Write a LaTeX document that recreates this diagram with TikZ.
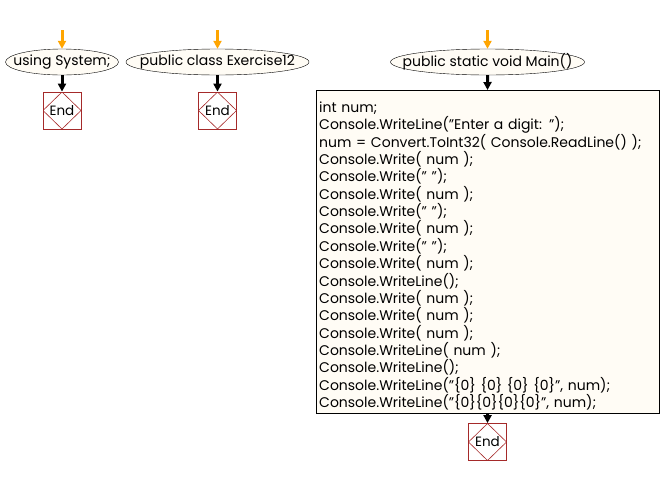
\documentclass[tikz,border=0pt]{standalone}
\usepackage{fontspec}
\setmainfont{Poppins}
\usetikzlibrary{shapes.geometric,arrows.meta}

\definecolor{flowcream}{RGB}{255,252,245}
\definecolor{flowred}{RGB}{165,42,42}
\definecolor{floworange}{RGB}{255,165,0}

\tikzset{
    startnode/.style={ellipse, draw, fill=flowcream, minimum height=26,
        inner sep=0pt, font=\fontsize{14}{16}\selectfont},
    endnode/.style={rectangle, draw=flowred, line width=0.8, minimum width=38,
        minimum height=37, inner sep=0pt, font=\fontsize{13.5}{16}\selectfont,
        path picture={\draw[flowred, line width=0.6]
            (path picture bounding box.north) -- (path picture bounding box.east)
            -- (path picture bounding box.south) -- (path picture bounding box.west)
            -- cycle;}},
    codebox/.style={rectangle, draw, fill=flowcream, anchor=north west,
        text width=337, minimum height=318, inner xsep=3, align=left,
        font=\fontsize{14}{17.35}\selectfont},
    inarrow/.style={floworange, line width=3, -{Triangle[width=8pt,length=8pt]}},
    flowarrow/.style={black, line width=3, -{Triangle[width=8pt,length=8pt]}}
}

\begin{document}
\begin{tikzpicture}[x=1pt, y=-1pt]
\useasboundingbox (0,0) rectangle (661,477);

% using System;
\coordinate (sysin) at (62,30);
\node[startnode, minimum width=113] (sys) at (62,62) {\makebox[0pt]{using System;}};
\node[endnode] (sysend) at (62,110.5) {End};
\draw[inarrow] (sysin) -- (sys);
\draw[flowarrow] (sys) -- (sysend);

% public class Exercise12
\coordinate (clsin) at (217.5,30);
\node[startnode, minimum width=183] (cls) at (217.5,62) {\makebox[0pt]{public class Exercise12}};
\node[endnode] (clsend) at (217.5,110.5) {End};
\draw[inarrow] (clsin) -- (cls);
\draw[flowarrow] (cls) -- (clsend);

% public static void Main()
\coordinate (mainin) at (487.5,30);
\node[startnode, minimum width=194] (main) at (487.5,62) {\makebox[0pt]{public static void Main()}};
\node[codebox] (code) at (316,90) {\rule{0pt}{19pt}int num;\\
Console.WriteLine("Enter a digit: ");\\
num = Convert.ToInt32( Console.ReadLine() );\\
Console.Write( num );\\
Console.Write(" ");\\
Console.Write( num );\\
Console.Write(" ");\\
Console.Write( num );\\
Console.Write(" ");\\
Console.Write( num );\\
Console.WriteLine();\\
Console.Write( num );\\
Console.Write( num );\\
Console.Write( num );\\
Console.WriteLine( num );\\
Console.WriteLine();\\
Console.WriteLine("\{0\} \{0\} \{0\} \{0\}", num);\\
Console.WriteLine("\{0\}\{0\}\{0\}\{0\}", num);};
\node[endnode] (mainend) at (487.5,442) {End};
\draw[inarrow] (mainin) -- (main);
\draw[flowarrow] (main) -- (code);
\draw[flowarrow] (code) -- (mainend);

\end{tikzpicture}
\end{document}
